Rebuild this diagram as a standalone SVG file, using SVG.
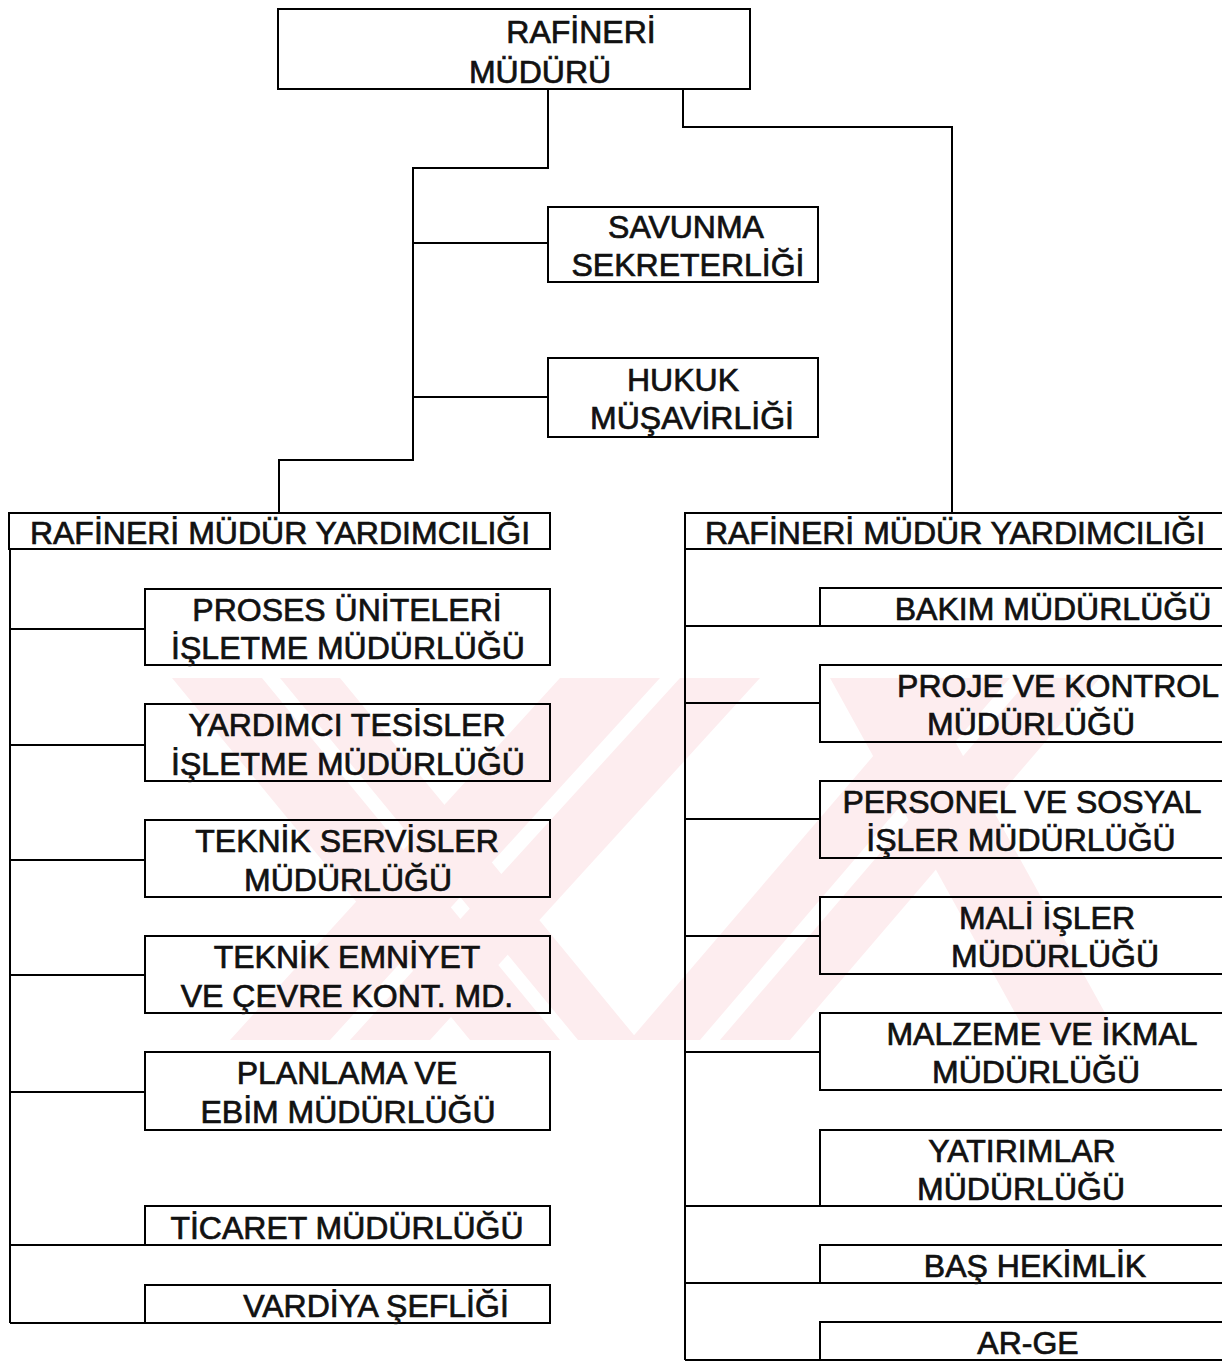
<svg xmlns="http://www.w3.org/2000/svg" width="1222" height="1363" viewBox="0 0 1222 1363">
<style>
.bg{fill:#ffffff}
.wm{fill:#fdedef}
.box{fill:none;stroke:#000;stroke-width:2}
.ln{fill:none;stroke:#000;stroke-width:2}
text{font-family:"Liberation Sans",Arial,sans-serif;font-size:32px;fill:#111;stroke:#111;stroke-width:0.7;text-anchor:middle}
</style>
<rect class="bg" x="0" y="0" width="1222" height="1363"/>
<g id="watermark">
<polygon class="wm" points="172,678 262,678 560,1040 470,1040"/>
<polygon class="wm" points="280,678 340,678 638,1040 578,1040"/>
<polygon class="wm" points="560,678 660,678 330,1040 230,1040"/>
<polygon class="wm" points="680,678 760,678 430,1040 350,1040"/>
<polygon class="wm" points="830,678 920,678 1120,1040 1030,1040"/>
<polygon class="wm" points="940,678 1010,678 700,1040 630,1040"/>
<polygon class="wm" points="1030,678 1100,678 790,1040 720,1040"/>
</g>
<g id="connectors">
<path class="ln" d="M548,89 V168 H413 V460 H279 V513"/>
<path class="ln" d="M413,243 H548"/>
<path class="ln" d="M413,397 H548"/>
<path class="ln" d="M683,89 V127 H952 V513"/>
<path class="ln" d="M10,549 V1323"/>
<path class="ln" d="M10,629 H145 M10,745 H145 M10,860 H145 M10,975 H145 M10,1092 H145 M10,1245 H145 M10,1323 H145"/>
<path class="ln" d="M685,549 V1360"/>
<path class="ln" d="M685,626 H820 M685,703 H820 M685,819 H820 M685,936 H820 M685,1052 H820 M685,1206 H820 M685,1283 H820 M685,1360 H820"/>
</g>
<g id="n-mudur"><rect class="box" x="278" y="9" width="472" height="80"/><text x="581" y="43">RAFİNERİ</text><text x="540" y="83">MÜDÜRÜ</text></g>
<g id="n-savunma"><rect class="box" x="548" y="207" width="270" height="75"/><text x="686" y="238">SAVUNMA</text><text x="688" y="276">SEKRETERLİĞİ</text></g>
<g id="n-hukuk"><rect class="box" x="548" y="358" width="270" height="79"/><text x="683" y="391">HUKUK</text><text x="692" y="429">MÜŞAVİRLİĞİ</text></g>
<g id="n-rmy-left"><rect class="box" x="9" y="513" width="541" height="36"/><text x="280" y="544">RAFİNERİ MÜDÜR YARDIMCILIĞI</text></g>
<g id="n-rmy-right"><rect class="box" x="685" y="513" width="560" height="36"/><text x="955" y="544">RAFİNERİ MÜDÜR YARDIMCILIĞI</text></g>
<g id="n-proses"><rect class="box" x="145" y="589" width="405" height="76"/><text x="347" y="621">PROSES ÜNİTELERİ</text><text x="348" y="659">İŞLETME MÜDÜRLÜĞÜ</text></g>
<g id="n-yardimci"><rect class="box" x="145" y="704" width="405" height="77"/><text x="347" y="736">YARDIMCI TESİSLER</text><text x="348" y="775">İŞLETME MÜDÜRLÜĞÜ</text></g>
<g id="n-teknik-servis"><rect class="box" x="145" y="820" width="405" height="77"/><text x="347" y="852">TEKNİK SERVİSLER</text><text x="348" y="891">MÜDÜRLÜĞÜ</text></g>
<g id="n-teknik-emniyet"><rect class="box" x="145" y="936" width="405" height="77"/><text x="347" y="968">TEKNİK EMNİYET</text><text x="347" y="1007">VE ÇEVRE KONT. MD.</text></g>
<g id="n-planlama"><rect class="box" x="145" y="1052" width="405" height="78"/><text x="347" y="1084">PLANLAMA VE</text><text x="348" y="1123">EBİM MÜDÜRLÜĞÜ</text></g>
<g id="n-ticaret"><rect class="box" x="145" y="1206" width="405" height="39"/><text x="347" y="1239">TİCARET MÜDÜRLÜĞÜ</text></g>
<g id="n-vardiya"><rect class="box" x="145" y="1285" width="405" height="38"/><text x="376" y="1317">VARDİYA ŞEFLİĞİ</text></g>
<g id="n-bakim"><rect class="box" x="820" y="588" width="420" height="38"/><text x="1053" y="620">BAKIM MÜDÜRLÜĞÜ</text></g>
<g id="n-proje"><rect class="box" x="820" y="665" width="420" height="77"/><text x="1058" y="697">PROJE VE KONTROL</text><text x="1031" y="735">MÜDÜRLÜĞÜ</text></g>
<g id="n-personel"><rect class="box" x="820" y="781" width="420" height="77"/><text x="1022" y="813">PERSONEL VE SOSYAL</text><text x="1021" y="851">İŞLER MÜDÜRLÜĞÜ</text></g>
<g id="n-mali"><rect class="box" x="820" y="897" width="420" height="77"/><text x="1047" y="929">MALİ İŞLER</text><text x="1055" y="967">MÜDÜRLÜĞÜ</text></g>
<g id="n-malzeme"><rect class="box" x="820" y="1013" width="420" height="77"/><text x="1042" y="1045">MALZEME VE İKMAL</text><text x="1036" y="1083">MÜDÜRLÜĞÜ</text></g>
<g id="n-yatirimlar"><rect class="box" x="820" y="1130" width="420" height="76"/><text x="1022" y="1162">YATIRIMLAR</text><text x="1021" y="1200">MÜDÜRLÜĞÜ</text></g>
<g id="n-bashekimlik"><rect class="box" x="820" y="1245" width="420" height="38"/><text x="1035" y="1277">BAŞ HEKİMLİK</text></g>
<g id="n-arge"><rect class="box" x="820" y="1322" width="420" height="38"/><text x="1028" y="1354">AR-GE</text></g>
</svg>
